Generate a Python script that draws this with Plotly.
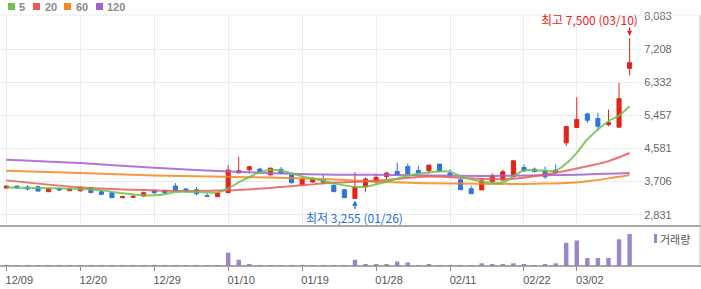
import plotly.graph_objects as go

# ---------------- data ----------------
dates = ["12/09","12/10","12/13","12/14","12/15","12/16","12/17","12/20","12/21","12/22",
         "12/23","12/24","12/27","12/28","12/29","12/30","01/03","01/04","01/05","01/06",
         "01/07","01/10","01/11","01/12","01/13","01/14","01/17","01/18","01/19","01/20",
         "01/21","01/24","01/25","01/26","01/27","01/28","02/03","02/04","02/07","02/08",
         "02/09","02/10","02/11","02/14","02/15","02/16","02/17","02/18","02/21","02/22",
         "02/23","02/24","02/25","02/28","03/02","03/03","03/04","03/07","03/08","03/10"]

opens  = [3535,3587,3561,3570,3438,3517,3464,3464,3535,3438,
          3411,3280,3288,3323,3473,3473,3587,3508,3490,3332,
          3306,3411,3935,4018,4036,3886,4027,3877,3623,3693,
          3746,3605,3490,3260,3570,3693,3842,3974,4106,4000,
          3992,4168,3930,3755,3517,3485,3710,3745,3833,4079,
          4035,3991,4009,4730,5134,5494,5371,5213,5143,6698]
highs  = [3587,3596,3614,3596,3530,3543,3552,3570,3561,3482,
          3415,3332,3359,3438,3475,3476,3667,3535,3561,3403,
          3411,4141,4361,4124,4071,4062,4089,3921,3842,3816,
          3904,3630,3508,3957,3816,3904,3966,4211,4185,4124,
          4141,4170,4036,3790,3596,3800,3921,4018,4255,4158,
          4079,4105,4158,5160,5934,5521,5521,5608,6312,7500]
lows   = [3517,3517,3473,3438,3435,3455,3455,3438,3405,3350,
          3278,3265,3280,3306,3376,3368,3455,3429,3341,3306,
          3306,3411,3935,3921,3948,3860,3921,3658,3623,3684,
          3684,3430,3265,3255,3438,3640,3772,3860,3904,3904,
          3921,3974,3842,3490,3385,3485,3640,3745,3833,3965,
          3939,3780,3921,4642,5134,5248,5046,5169,5143,6514]
closes = [3587,3535,3508,3455,3526,3482,3517,3552,3411,3368,
          3280,3306,3315,3411,3411,3411,3473,3447,3385,3315,
          3403,4009,3992,4097,3948,4062,3921,3675,3772,3790,
          3684,3438,3280,3561,3772,3816,3930,3877,3904,3930,
          4141,3974,3877,3490,3385,3724,3868,3965,4255,3991,
          3974,3833,3947,5160,5345,5327,5169,5265,5898,6848]

# volume (relative units)
volume = [0.5,0.5,0.5,0.5,0.5,0.5,0.5,0.5,0.5,0.5,
          0.5,0.5,0.5,0.5,0.5,0.5,3,0.5,0.5,0.5,
          0.5,45,21,6,3,3,3,3,3,0.5,
          3,3,3,21,6,6,4,15,12,3,
          5,3,3,3,3,9,6,6,9,6,
          3,6,9,78,86,27,27,27,90,108]

# moving averages (trading-day index, value)
ma5_idx  = [0,4,7,9,11,13,14,15,16,18,20,21,22,24,25,26,27,28,30,31,33,34,36,38,40,42,43,45,47,48,49,52,53,54,55,57,58,59]
ma5_val  = [3552,3530,3508,3473,3394,3341,3341,3368,3430,3429,3420,3526,3684,3948,4018,3992,3921,3842,3728,3658,3570,3570,3702,3860,3948,3966,3842,3705,3680,3851,4000,4000,4185,4466,4817,5301,5450,5696]
ma20_idx = [0,7,14,15,21,25,30,35,40,45,48,52,55,57,59]
ma20_val = [3737,3552,3473,3464,3473,3535,3655,3728,3842,3775,3780,3939,4110,4246,4460]
ma60_idx = [0,7,14,21,30,35,45,50,53,55,57,59]
ma60_val = [3992,3930,3869,3834,3772,3702,3645,3650,3665,3715,3790,3880]
ma120_idx = [0,7,14,21,30,35,45,52,59]
ma120_val = [4282,4194,4071,3974,3895,3886,3855,3877,3935]

price_ticks = [2831, 3706, 4581, 5457, 6332, 7208, 8083]
date_tick_labels = ["12/09","12/20","12/29","01/10","01/19","01/28","02/11","02/22","03/02"]

legend_labels = ["5", "20", "60", "120"]
high_text = "최고 7,500 (03/10)"
low_text = "최저 3,255 (01/26)"
vol_label = "거래량"

# ---------------- styling ----------------
UP = "#e2231a"
DOWN = "#2f74e0"
VOL = "#9a86c8"
MA_COLORS = ["#6cc24a", "#ea5a5a", "#f5891f", "#a062cf"]
GRID = "#ececec"
HI_COL = "#e8251f"
LO_COL = "#1f6fdc"

W, H = 701, 289
PL, PR, PT, PB = 0, 637, 15, 266

def px(x):
    return (x - PL) / (PR - PL)

def py(y):
    return (PB - y) / (PB - PT)

idx = list(range(len(dates)))
tick_idx = [dates.index(d) for d in date_tick_labels]

fig = go.Figure()

ma_sets = [(ma5_idx, ma5_val), (ma20_idx, ma20_val), (ma60_idx, ma60_val), (ma120_idx, ma120_val)]
for (mx, mv), col, name in zip(ma_sets[::-1], MA_COLORS[::-1], legend_labels[::-1]):
    fig.add_trace(go.Scatter(x=mx, y=mv, mode="lines", name=name,
                             line=dict(color=col, width=2, shape="spline", smoothing=0.9),
                             opacity=0.85, xaxis="x", yaxis="y", showlegend=False, hoverinfo="skip"))

fig.add_trace(go.Candlestick(
    x=idx, open=opens, high=highs, low=lows, close=closes,
    increasing=dict(line=dict(color=UP, width=1), fillcolor=UP),
    decreasing=dict(line=dict(color=DOWN, width=1), fillcolor=DOWN),
    whiskerwidth=0, xaxis="x", yaxis="y", showlegend=False))

fig.add_trace(go.Bar(x=idx, y=volume, marker=dict(color=VOL, line=dict(width=0)),
                     width=0.42, xaxis="x2", yaxis="y2", showlegend=False))

shapes = []
# price panel bottom border and volume baseline
shapes.append(dict(type="line", xref="paper", yref="paper", x0=px(0), x1=px(701),
                   y0=py(226), y1=py(226), line=dict(color="#8c8c8c", width=1.5)))
shapes.append(dict(type="line", xref="paper", yref="paper", x0=px(0), x1=px(701),
                   y0=py(266), y1=py(266), line=dict(color="#8c8c8c", width=1.5)))
shapes.append(dict(type="line", xref="paper", yref="paper", x0=px(700), x1=px(700),
                   y0=py(15), y1=py(266), line=dict(color="#bbbbbb", width=1)))
shapes.append(dict(type="line", xref="paper", yref="paper", x0=px(0), x1=px(701),
                   y0=py(15), y1=py(15), line=dict(color=GRID, width=1)))

annotations = []
# MA legend
sq_x = [8, 33, 64, 96]
tx_x = [17, 43, 74, 105]
for sx, tx, col, lab in zip(sq_x, tx_x, MA_COLORS, legend_labels):
    shapes.append(dict(type="rect", xref="paper", yref="paper", x0=px(sx), x1=px(sx + 7),
                       y0=py(10), y1=py(3), fillcolor=col, line=dict(width=0)))
    annotations.append(dict(xref="paper", yref="paper", x=px(tx), y=py(6.5), text=lab,
                            showarrow=False, xanchor="left", yanchor="middle",
                            font=dict(family="Liberation Sans", size=11, color="#8a8a8a", weight="bold")))

# volume legend
shapes.append(dict(type="rect", xref="paper", yref="paper", x0=px(654), x1=px(657),
                   y0=py(243), y1=py(234), fillcolor=VOL, line=dict(width=0)))
annotations.append(dict(xref="paper", yref="paper", x=px(657.5), y=py(238.5), text=vol_label,
                        showarrow=False, xanchor="left", yanchor="middle",
                        font=dict(family="Noto Sans CJK KR", size=11, color="#555555")))

# high / low markers
hi_i = highs.index(max(highs))
lo_i = lows.index(min(lows))
annotations.append(dict(xref="paper", yref="paper", x=px(640), y=py(20), text=high_text,
                        showarrow=False, xanchor="right", yanchor="middle",
                        font=dict(family="Noto Sans CJK KR", size=12, color=HI_COL)))
annotations.append(dict(xref="x", yref="y", x=hi_i, y=max(highs), text="",
                        showarrow=True, ax=0, ay=-12, standoff=2,
                        arrowhead=2, arrowsize=0.8, arrowwidth=1.3, arrowcolor=HI_COL))
annotations.append(dict(xref="x", yref="paper", x=lo_i, y=py(217), text=low_text,
                        showarrow=False, xanchor="center", yanchor="middle",
                        font=dict(family="Noto Sans CJK KR", size=12, color=LO_COL)))
annotations.append(dict(xref="x", yref="y", x=lo_i, y=min(lows), text="",
                        showarrow=True, ax=0, ay=12, standoff=2,
                        arrowhead=2, arrowsize=0.8, arrowwidth=1.3, arrowcolor=LO_COL))

fig.update_layout(
    width=W, height=H,
    margin=dict(l=PL, r=W - PR, t=PT, b=H - PB),
    paper_bgcolor="white", plot_bgcolor="white",
    boxgap=0.45,
    showlegend=False,
    xaxis=dict(domain=[0, 1], range=[-0.6, 59.7], anchor="y",
               tickvals=tick_idx, showticklabels=False, ticks="",
               showgrid=True, gridcolor=GRID, gridwidth=1, zeroline=False,
               rangeslider=dict(visible=False), fixedrange=True),
    xaxis2=dict(domain=[0, 1], matches="x", anchor="y2",
                tickvals=tick_idx, ticktext=date_tick_labels,
                ticks="outside", ticklen=4, tickcolor="#8c8c8c", tickwidth=1,
                ticklabelshift=13, ticklabelstandoff=0,
                tickfont=dict(family="Liberation Sans", size=11, color="#555555"),
                showgrid=False, zeroline=False, showline=False),
    yaxis=dict(domain=[py(226), 1], range=[2531, 8109], side="right", anchor="x",
               tickvals=price_ticks, ticktext=[f"{v:,}" for v in price_ticks],
               ticks="outside", ticklen=4, tickcolor=GRID,
               tickfont=dict(family="Liberation Sans", size=11, color="#666666"),
               showgrid=True, gridcolor=GRID, gridwidth=1, zeroline=False, showline=False),
    yaxis2=dict(domain=[0, py(228)], range=[0, 128], anchor="x2",
                showticklabels=False, showgrid=False, zeroline=False, ticks=""),
    shapes=shapes,
    annotations=annotations,
)

fig.write_html("out.html")
